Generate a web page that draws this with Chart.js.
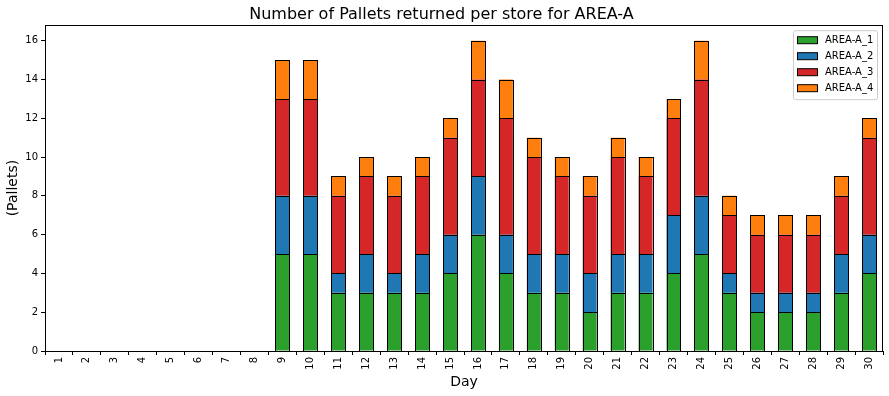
<!DOCTYPE html>
<html>
<head>
<meta charset="utf-8">
<script src="https://cdn.jsdelivr.net/npm/chart.js@4"></script>
<style>
  html, body { margin: 0; padding: 0; background: #fff; }
  #wrap { width: 889px; height: 396px; }
</style>
</head>
<body>
<div id="wrap"><canvas id="Pallets" width="889" height="396"></canvas></div>
<script>
const days = ["1", "2", "3", "4", "5", "6", "7", "8", "9", "10", "11", "12", "13", "14", "15",
  "16", "17", "18", "19", "20", "21", "22", "23", "24", "25", "26", "27", "28", "29", "30"];

// pallets per store
const areaA1 = [0, 0, 0, 0, 0, 0, 0, 0, 5, 5, 3, 3, 3, 3, 4, 6, 4, 3, 3, 2, 3, 3, 4, 5, 3, 2, 2, 2, 3, 4];
const areaA2 = [0, 0, 0, 0, 0, 0, 0, 0, 3, 3, 1, 2, 1, 2, 2, 3, 2, 2, 2, 2, 2, 2, 3, 3, 1, 1, 1, 1, 2, 2];
const areaA3 = [0, 0, 0, 0, 0, 0, 0, 0, 5, 5, 4, 4, 4, 4, 5, 5, 6, 5, 4, 4, 5, 4, 5, 6, 3, 3, 3, 3, 3, 5];
const areaA4 = [0, 0, 0, 0, 0, 0, 0, 0, 2, 2, 1, 1, 1, 1, 1, 2, 2, 1, 1, 1, 1, 1, 1, 2, 1, 1, 1, 1, 1, 1];

const yTicks = [0, 2, 4, 6, 8, 10, 12, 14, 16];
const Y_MAX = 16.8;

const FONT = "'DejaVu Sans', sans-serif";

const series = [
  { label: "AREA-A_1", data: areaA1, color: "#2ca02c" },
  { label: "AREA-A_2", data: areaA2, color: "#1f77b4" },
  { label: "AREA-A_3", data: areaA3, color: "#d62728" },
  { label: "AREA-A_4", data: areaA4, color: "#ff7f0e" },
];

// crisp black edges on each bar segment (taken from the bar elements chart.js laid out)
const edgePlugin = {
  id: "edges",
  afterDatasetsDraw(chart) {
    const { ctx } = chart;
    ctx.save();
    ctx.strokeStyle = "#000";
    ctx.lineWidth = 1;
    chart.data.datasets.forEach((ds, i) => {
      chart.getDatasetMeta(i).data.forEach((bar, j) => {
        if (!ds.data[j]) return;
        const { x, y, base, width } = bar.getProps(["x", "y", "base", "width"], true);
        const l = Math.round(x - width / 2), r = Math.round(x + width / 2);
        const t = Math.round(y), b = Math.round(base);
        ctx.strokeRect(l + 0.5, t + 0.5, r - l, b - t);
      });
    });
    ctx.restore();
  },
};

// axes frame on all four sides, like matplotlib
const framePlugin = {
  id: "frame",
  afterDatasetsDraw(chart) {
    const { ctx, chartArea: a } = chart;
    ctx.save();
    ctx.strokeStyle = "#000";
    ctx.lineWidth = 1;
    ctx.strokeRect(Math.round(a.left) + 0.5, Math.round(a.top) + 0.5,
      Math.round(a.right - a.left) - 1, Math.round(a.bottom - a.top));
    ctx.restore();
  },
};

// legend box in the upper right corner of the plot area
const innerLegend = {
  id: "innerLegend",
  afterDraw(chart) {
    const { ctx, chartArea: a } = chart;
    const sets = chart.data.datasets;
    const w = 84, rowH = 16, h = sets.length * rowH + 5;
    const x = a.right - w - 6, y = a.top + 5;
    ctx.save();
    ctx.fillStyle = "rgba(255,255,255,0.8)";
    ctx.strokeStyle = "#cccccc";
    ctx.lineWidth = 1;
    ctx.beginPath();
    ctx.roundRect(x + 0.5, y + 0.5, w, h, 2);
    ctx.fill();
    ctx.stroke();
    ctx.font = "10px " + FONT;
    ctx.textBaseline = "middle";
    sets.forEach((ds, i) => {
      const cy = y + 10 + i * rowH;
      ctx.fillStyle = ds.backgroundColor;
      ctx.fillRect(x + 4, cy - 3.5, 20, 7);
      ctx.strokeStyle = "#000";
      ctx.strokeRect(x + 4.5, cy - 3.5, 20, 7);
      ctx.fillStyle = "#000";
      ctx.fillText(ds.label, x + 32, cy + 0.5);
    });
    ctx.restore();
  },
};

const composeConfig = () => ({
  type: "bar",
  data: {
    labels: days,
    datasets: series.map((s) => ({
      label: s.label,
      data: s.data,
      backgroundColor: s.color,
      borderWidth: 0,
      barPercentage: 0.5,
      categoryPercentage: 1.0,
    })),
  },
  options: {
    responsive: false,
    animation: false,
    layout: { padding: { left: 0, right: 6, top: 0, bottom: 0 } },
    plugins: {
      legend: { display: false },
      tooltip: { enabled: false },
      title: {
        display: true,
        text: "Number of Pallets returned per store for AREA-A",
        color: "#000",
        font: { family: FONT, size: 16, weight: "normal" },
        padding: { top: 5, bottom: 1 },
      },
    },
    scales: {
      x: {
        stacked: true,
        offset: true,
        grid: { display: true, drawOnChartArea: false, drawTicks: true, tickLength: 4, color: "#000" },
        border: { display: true, color: "#000" },
        ticks: {
          color: "#000",
          font: { family: FONT, size: 10 },
          minRotation: 90,
          maxRotation: 90,
          autoSkip: false,
          padding: 2,
        },
        title: {
          display: true,
          text: "Day",
          color: "#000",
          font: { family: FONT, size: 14 },
          padding: { top: 0, bottom: 5 },
        },
        afterFit: (scale) => { scale.height = 45; },
      },
      y: {
        stacked: true,
        min: 0,
        max: Y_MAX,
        grid: { display: true, drawOnChartArea: false, drawTicks: true, tickLength: 4, color: "#000" },
        border: { display: true, color: "#000" },
        ticks: {
          color: "#000",
          font: { family: FONT, size: 10 },
          stepSize: 2,
          padding: 3,
        },
        afterBuildTicks: (scale) => {
          scale.ticks = yTicks.map((v) => ({ value: v }));
        },
        title: {
          display: true,
          text: "(Pallets)",
          color: "#000",
          font: { family: FONT, size: 14 },
          padding: { top: 5, bottom: 0 },
        },
        afterFit: (scale) => { scale.width = 45; },
      },
    },
  },
  plugins: [edgePlugin, framePlugin, innerLegend],
});

const chart = new Chart(document.getElementById("Pallets"), composeConfig());
</script>
</body>
</html>
